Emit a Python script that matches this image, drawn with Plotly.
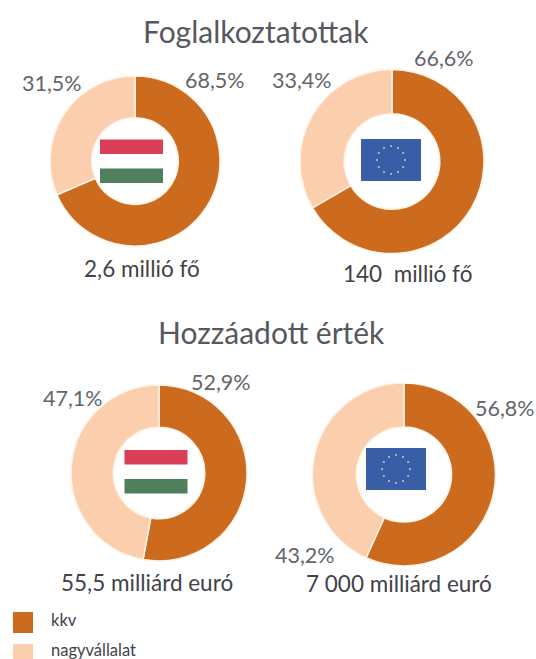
import plotly.graph_objects as go
import math

W, H = 536, 659
labels = ["kkv", "nagyvállalat"]
colors = ["#CC6A1E", "#FBCFAE"]
values_hu_emp = [68.5, 31.5]
values_eu_emp = [66.6, 33.4]
values_hu_va = [52.9, 47.1]
values_eu_va = [56.8, 43.2]

# cx, cy, r, hole in pixels
donuts = [
    (values_hu_emp, 135, 161, 85, 0.51),
    (values_eu_emp, 392, 161.5, 92, 0.52),
    (values_hu_va, 159, 473, 88, 0.52),
    (values_eu_va, 404, 474.5, 91.5, 0.52),
]

fig = go.Figure()
for i, (vals, cx, cy, r, hole) in enumerate(donuts):
    fig.add_trace(go.Pie(
        labels=labels, values=vals, hole=hole, sort=False, direction="clockwise", rotation=0,
        marker=dict(colors=colors, line=dict(color="#FFF3E6", width=1.5)),
        textinfo="none", hoverinfo="label+percent", showlegend=False,
        domain=dict(x=[(cx - r) / W, (cx + r) / W], y=[1 - (cy + r) / H, 1 - (cy - r) / H]),
    ))

def px(x0, y0, x1, y1, color):
    fig.add_shape(type="rect", xref="paper", yref="paper", x0=x0 / W, x1=x1 / W,
                  y0=1 - y1 / H, y1=1 - y0 / H, fillcolor=color, line_width=0, layer="above")

def text(x, y, s, size, color="#62656B"):
    fig.add_annotation(x=x / W, y=1 - y / H, xref="paper", yref="paper", text=s, showarrow=False,
                       xanchor="center", yanchor="middle",
                       font=dict(family="Lato, Open Sans", size=size, color=color))

def hu_flag(cx, cy):
    px(cx - 31.5, cy - 22, cx + 31.5, cy - 7.5, "#D93F56")
    px(cx - 31.5, cy + 7, cx + 31.5, cy + 21.5, "#4F7F5C")

def eu_flag(cx, cy):
    px(cx - 30, cy - 21, cx + 30, cy + 21, "#3A5DA8")
    for k in range(12):
        a = math.radians(30 * k)
        sx, sy = cx + 14 * math.cos(a), cy + 14 * math.sin(a)
        px(sx - 1, sy - 1, sx + 1, sy + 1, "#A9B4A6")

hu_flag(131.5, 161.5)
eu_flag(391, 160)
hu_flag(156, 472)
eu_flag(396, 469)

text(256, 31, "Foglalkoztatottak", 30, "#55585E")
text(271.5, 332, "Hozzáadott érték", 30, "#55585E")

PCT = 21.5
text(52, 83, "31,5%", PCT)
text(214.5, 80, "68,5%", PCT)
text(301.5, 80, "33,4%", PCT)
text(443.5, 58, "66,6%", PCT)
text(73, 398, "47,1%", PCT)
text(221, 382, "52,9%", PCT)
text(505, 408, "56,8%", PCT)
text(305, 555, "43,2%", PCT)

LBL = 22.5
text(141.5, 268, "2,6 millió fő", LBL, "#3F4247")
text(407.5, 273, "140  millió fő", LBL, "#3F4247")
text(146.5, 582, "55,5 milliárd euró", LBL, "#3F4247")
text(398.5, 583, "7 000 milliárd euró", LBL, "#3F4247")

px(13, 612, 33, 633, "#CC6A1E")
px(13, 644, 33, 659, "#FBCFAE")
for yy, s in ((620, "kkv"), (650, "nagyvállalat")):
    fig.add_annotation(x=49 / W, y=1 - yy / H, xref="paper", yref="paper", text=s, showarrow=False,
                       xanchor="left", yanchor="middle",
                       font=dict(family="Lato, Open Sans", size=16.5, color="#3F4247"))

fig.update_layout(width=W, height=H, margin=dict(l=0, r=0, t=0, b=0), paper_bgcolor="white", plot_bgcolor="white")
fig.write_html("out.html", config={"displayModeBar": False},
               post_script="document.body.style.margin='0';document.documentElement.style.overflow='hidden';")
